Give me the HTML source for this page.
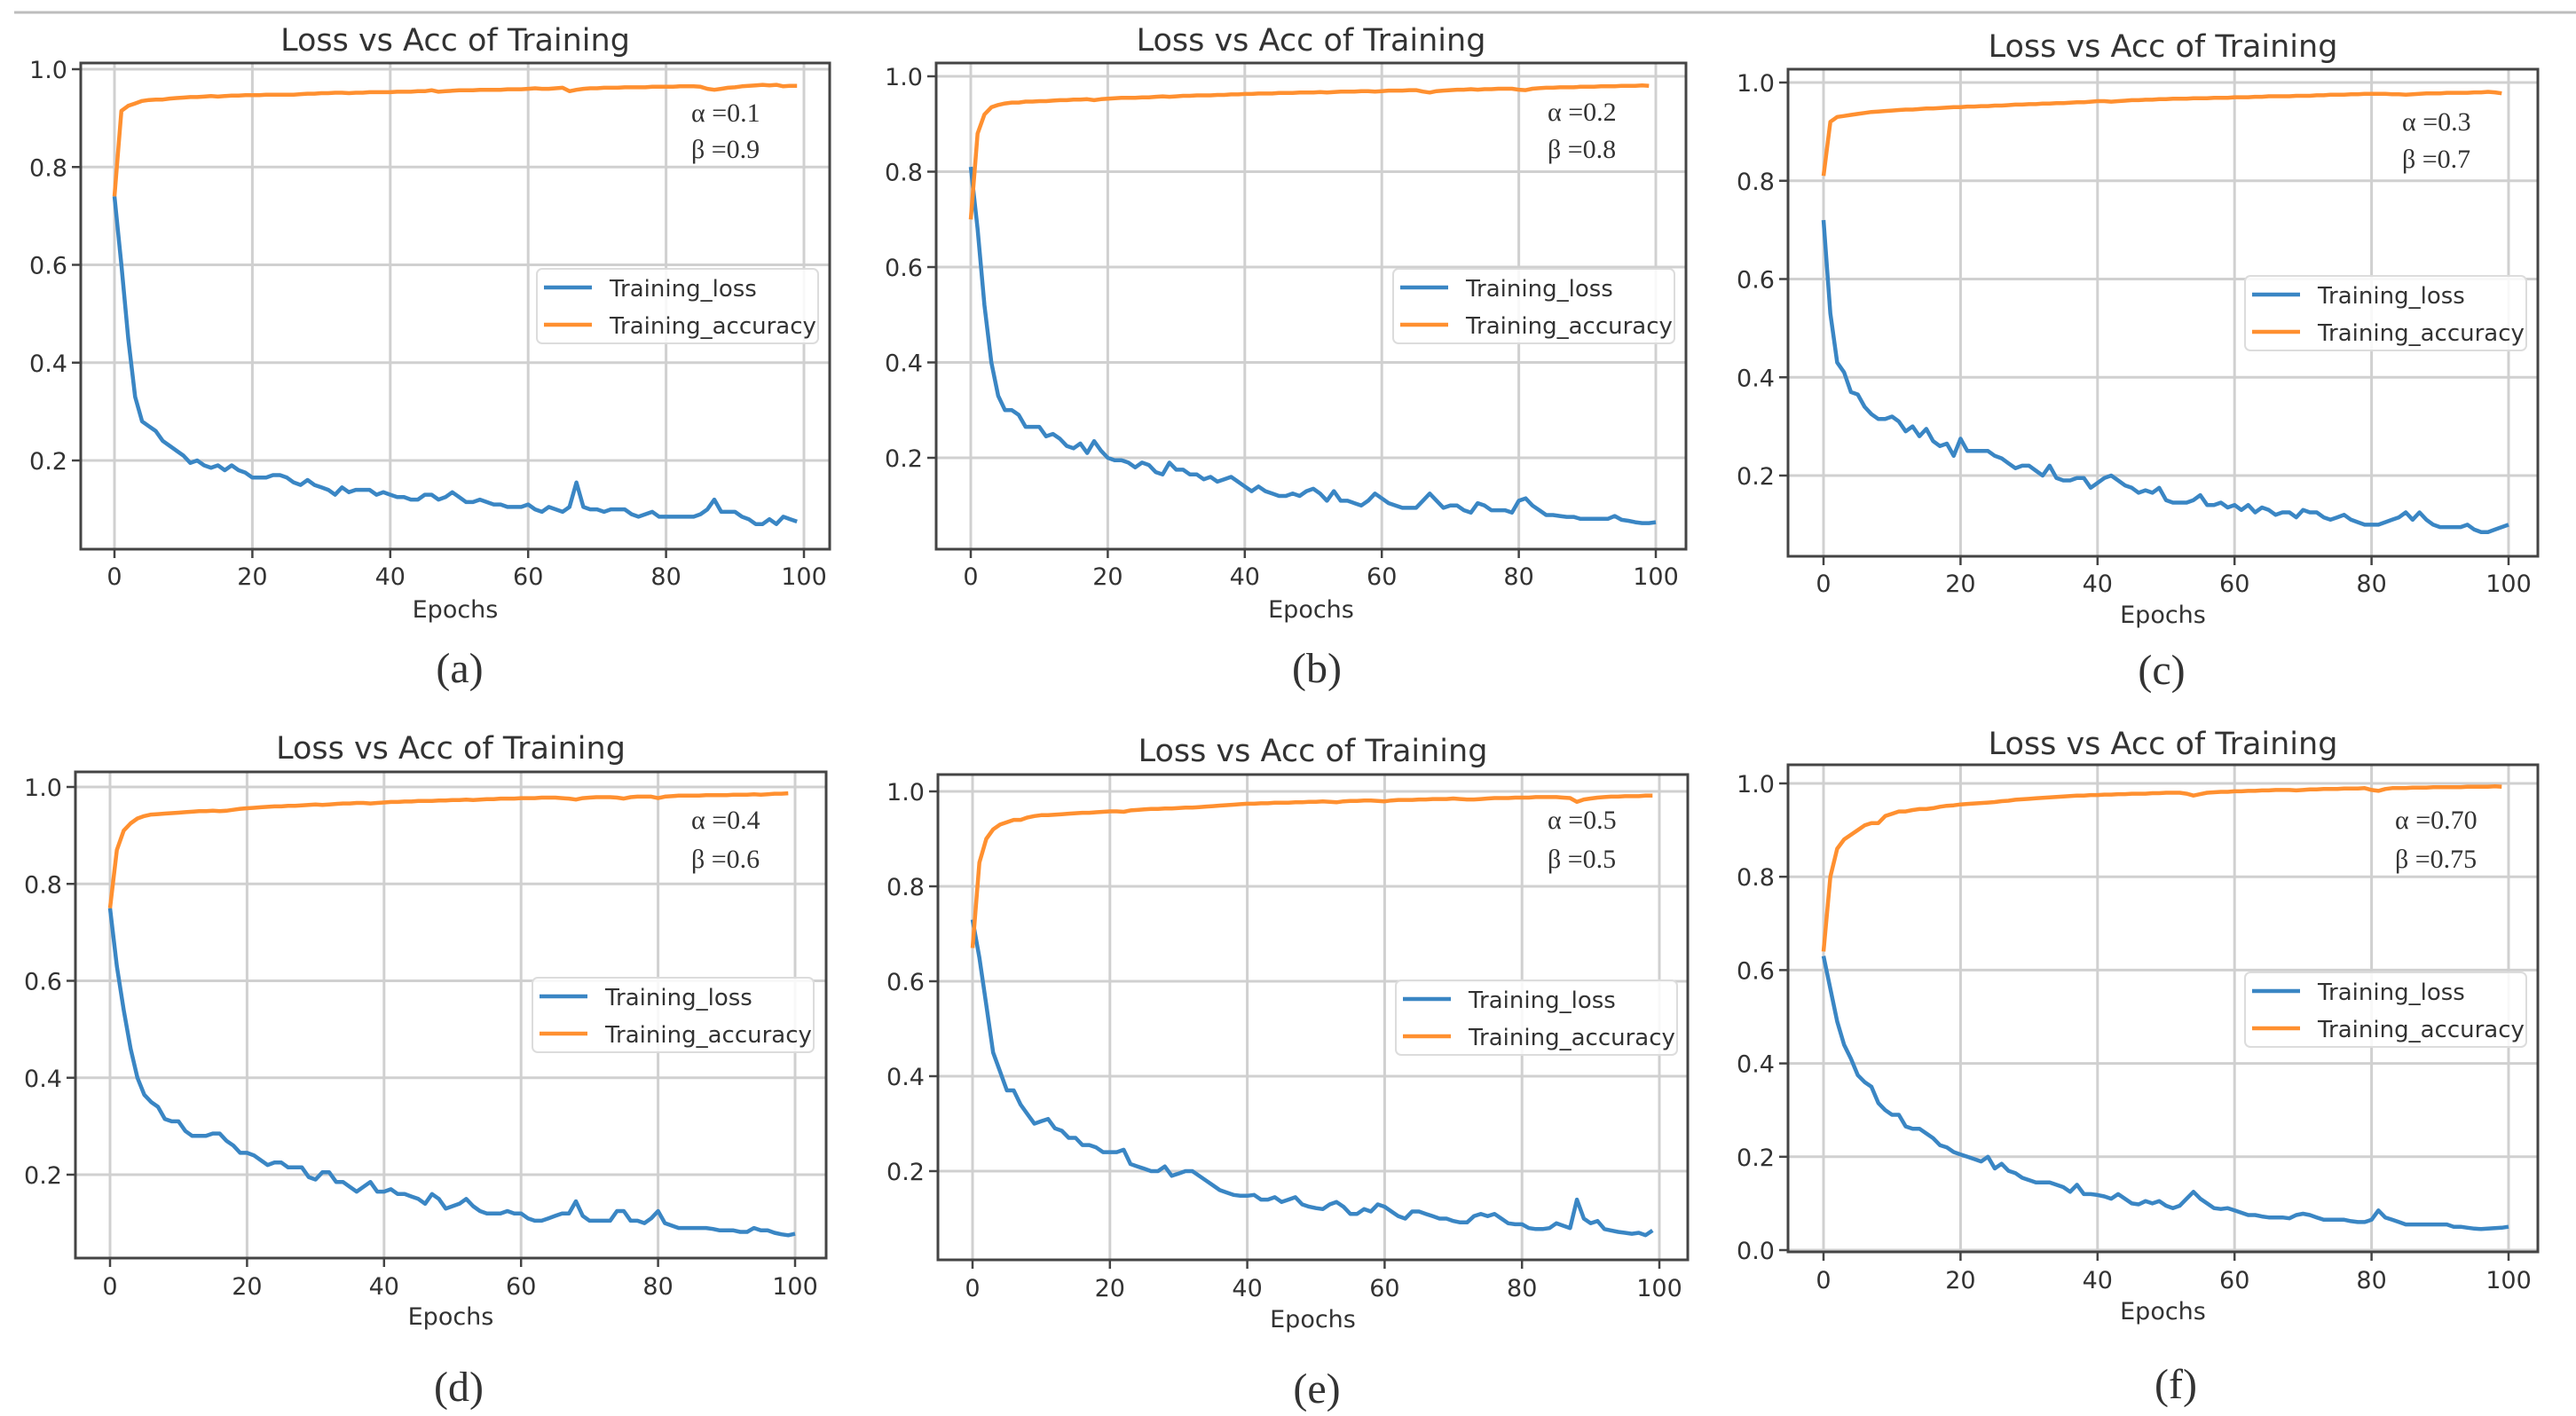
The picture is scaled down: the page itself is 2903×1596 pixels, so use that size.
<!DOCTYPE html>
<html><head><meta charset="utf-8">
<style>
html,body{margin:0;padding:0;background:#fff;}
svg{display:block;}
text{font-family:"DejaVu Sans","Liberation Sans",sans-serif;fill:#333;}
.serif{font-family:"Liberation Serif",serif;}
</style></head>
<body>
<svg id="fig" width="2903" height="1596" viewBox="0 0 2903 1596" xmlns="http://www.w3.org/2000/svg">
<line x1="16" y1="14" x2="2903" y2="14" stroke="#bdbdbd" stroke-width="3"/>
</svg>
<script>
const xTicks = [0,20,40,60,80,100];
const yTicksA = [0.2,0.4,0.6,0.8,1.0];
const yTicksF = [0.0,0.2,0.4,0.6,0.8,1.0];
const panelLetters = ["a","b","c","d","e","f"];
const alphas = ["0.1","0.2","0.3","0.4","0.5","0.70"];
const betas = ["0.9","0.8","0.7","0.6","0.5","0.75"];

const lossA = [0.74,0.6,0.45,0.33,0.28,0.27,0.26,0.24,0.23,0.22,0.21,0.195,0.2,0.19,0.185,0.19,0.18,0.19,0.18,0.175,0.165,0.165,0.165,0.17,0.17,0.165,0.155,0.15,0.16,0.15,0.145,0.14,0.13,0.145,0.135,0.14,0.14,0.14,0.13,0.135,0.13,0.125,0.125,0.12,0.12,0.13,0.13,0.12,0.125,0.135,0.125,0.115,0.115,0.12,0.115,0.11,0.11,0.105,0.105,0.105,0.11,0.1,0.095,0.105,0.1,0.095,0.105,0.155,0.105,0.1,0.1,0.095,0.1,0.1,0.1,0.09,0.085,0.09,0.095,0.085,0.085,0.085,0.085,0.085,0.085,0.09,0.1,0.12,0.095,0.095,0.095,0.085,0.08,0.07,0.07,0.08,0.07,0.085,0.08,0.075];
const accA = [0.74,0.915,0.925,0.93,0.935,0.937,0.938,0.938,0.94,0.941,0.942,0.943,0.943,0.944,0.945,0.944,0.945,0.946,0.946,0.947,0.947,0.947,0.948,0.948,0.948,0.948,0.948,0.949,0.95,0.95,0.951,0.951,0.952,0.952,0.951,0.952,0.952,0.953,0.953,0.953,0.953,0.954,0.954,0.954,0.955,0.955,0.957,0.954,0.955,0.956,0.957,0.957,0.957,0.958,0.958,0.958,0.958,0.959,0.959,0.959,0.96,0.961,0.96,0.96,0.961,0.962,0.955,0.958,0.96,0.961,0.961,0.962,0.962,0.962,0.963,0.963,0.963,0.963,0.964,0.964,0.964,0.964,0.965,0.965,0.965,0.964,0.96,0.958,0.96,0.962,0.963,0.965,0.966,0.967,0.968,0.967,0.968,0.965,0.966,0.966];

const lossB = [0.81,0.68,0.52,0.4,0.33,0.3,0.3,0.29,0.265,0.265,0.265,0.245,0.25,0.24,0.225,0.22,0.23,0.21,0.235,0.215,0.2,0.195,0.195,0.19,0.18,0.19,0.185,0.17,0.165,0.19,0.175,0.175,0.165,0.165,0.155,0.16,0.15,0.155,0.16,0.15,0.14,0.13,0.14,0.13,0.125,0.12,0.12,0.125,0.12,0.13,0.135,0.125,0.11,0.13,0.11,0.11,0.105,0.1,0.11,0.125,0.115,0.105,0.1,0.095,0.095,0.095,0.11,0.125,0.11,0.095,0.1,0.1,0.09,0.085,0.105,0.1,0.09,0.09,0.09,0.085,0.11,0.115,0.1,0.09,0.08,0.08,0.078,0.076,0.076,0.072,0.072,0.072,0.072,0.072,0.078,0.07,0.068,0.065,0.063,0.063,0.065];
const accB = [0.7,0.88,0.92,0.935,0.94,0.943,0.945,0.945,0.947,0.947,0.948,0.948,0.949,0.95,0.95,0.951,0.951,0.952,0.95,0.952,0.953,0.954,0.955,0.955,0.955,0.956,0.956,0.957,0.958,0.957,0.958,0.959,0.959,0.96,0.96,0.96,0.961,0.961,0.962,0.962,0.963,0.963,0.964,0.964,0.964,0.965,0.965,0.965,0.966,0.966,0.966,0.967,0.966,0.967,0.968,0.968,0.968,0.969,0.969,0.968,0.969,0.97,0.97,0.97,0.971,0.971,0.968,0.966,0.969,0.97,0.971,0.972,0.972,0.973,0.972,0.973,0.973,0.974,0.974,0.974,0.972,0.971,0.974,0.975,0.976,0.976,0.977,0.977,0.977,0.978,0.978,0.978,0.979,0.979,0.979,0.98,0.98,0.98,0.981,0.98];

const lossC = [0.72,0.53,0.43,0.41,0.37,0.365,0.34,0.325,0.315,0.315,0.32,0.31,0.29,0.3,0.28,0.295,0.27,0.26,0.265,0.24,0.275,0.25,0.25,0.25,0.25,0.24,0.235,0.225,0.215,0.22,0.22,0.21,0.2,0.22,0.195,0.19,0.19,0.195,0.195,0.175,0.185,0.195,0.2,0.19,0.18,0.175,0.165,0.17,0.165,0.175,0.15,0.145,0.145,0.145,0.15,0.16,0.14,0.14,0.145,0.135,0.14,0.13,0.14,0.125,0.135,0.13,0.12,0.125,0.125,0.115,0.13,0.125,0.125,0.115,0.11,0.115,0.12,0.11,0.105,0.1,0.1,0.1,0.105,0.11,0.115,0.125,0.11,0.125,0.11,0.1,0.095,0.095,0.095,0.095,0.1,0.09,0.085,0.085,0.09,0.095,0.1];
const accC = [0.81,0.92,0.93,0.932,0.934,0.936,0.938,0.94,0.941,0.942,0.943,0.944,0.945,0.945,0.946,0.947,0.947,0.948,0.949,0.95,0.95,0.951,0.951,0.952,0.952,0.953,0.953,0.954,0.955,0.955,0.956,0.956,0.957,0.957,0.958,0.958,0.959,0.96,0.96,0.961,0.962,0.962,0.961,0.962,0.963,0.964,0.964,0.965,0.965,0.966,0.966,0.967,0.967,0.967,0.968,0.968,0.968,0.969,0.969,0.969,0.97,0.97,0.97,0.971,0.971,0.972,0.972,0.972,0.972,0.973,0.973,0.973,0.974,0.974,0.975,0.975,0.975,0.976,0.976,0.977,0.977,0.977,0.977,0.976,0.976,0.975,0.976,0.977,0.978,0.978,0.978,0.979,0.979,0.979,0.979,0.98,0.98,0.981,0.98,0.978];

const lossD = [0.75,0.63,0.54,0.46,0.4,0.365,0.35,0.34,0.315,0.31,0.31,0.29,0.28,0.28,0.28,0.285,0.285,0.27,0.26,0.245,0.245,0.24,0.23,0.22,0.225,0.225,0.215,0.215,0.215,0.195,0.19,0.205,0.205,0.185,0.185,0.175,0.165,0.175,0.185,0.165,0.165,0.17,0.16,0.16,0.155,0.15,0.14,0.16,0.15,0.13,0.135,0.14,0.15,0.135,0.125,0.12,0.12,0.12,0.125,0.12,0.12,0.11,0.105,0.105,0.11,0.115,0.12,0.12,0.145,0.115,0.105,0.105,0.105,0.105,0.125,0.125,0.105,0.105,0.1,0.11,0.125,0.1,0.095,0.09,0.09,0.09,0.09,0.09,0.088,0.085,0.085,0.085,0.082,0.082,0.09,0.085,0.085,0.08,0.077,0.075,0.078];
const accD = [0.75,0.87,0.91,0.925,0.935,0.94,0.943,0.944,0.945,0.946,0.947,0.948,0.949,0.95,0.95,0.951,0.95,0.951,0.953,0.955,0.956,0.957,0.958,0.959,0.96,0.96,0.961,0.961,0.962,0.963,0.964,0.963,0.964,0.965,0.966,0.966,0.967,0.967,0.966,0.967,0.968,0.969,0.969,0.97,0.97,0.971,0.971,0.971,0.972,0.972,0.973,0.973,0.974,0.973,0.974,0.975,0.975,0.976,0.976,0.976,0.977,0.977,0.977,0.978,0.978,0.978,0.977,0.976,0.974,0.977,0.978,0.979,0.979,0.979,0.978,0.976,0.979,0.98,0.98,0.98,0.977,0.98,0.981,0.982,0.982,0.982,0.982,0.983,0.983,0.983,0.983,0.984,0.984,0.984,0.985,0.984,0.985,0.986,0.986,0.987];

const lossE = [0.73,0.65,0.55,0.45,0.41,0.37,0.37,0.34,0.32,0.3,0.305,0.31,0.29,0.285,0.27,0.27,0.255,0.255,0.25,0.24,0.24,0.24,0.245,0.215,0.21,0.205,0.2,0.2,0.21,0.19,0.195,0.2,0.2,0.19,0.18,0.17,0.16,0.155,0.15,0.148,0.148,0.15,0.14,0.14,0.145,0.135,0.14,0.145,0.13,0.125,0.122,0.12,0.13,0.135,0.125,0.11,0.11,0.12,0.115,0.13,0.125,0.115,0.105,0.1,0.115,0.115,0.11,0.105,0.1,0.1,0.095,0.092,0.092,0.105,0.11,0.105,0.11,0.1,0.09,0.088,0.088,0.08,0.078,0.078,0.08,0.09,0.085,0.08,0.14,0.1,0.09,0.095,0.078,0.075,0.072,0.07,0.068,0.07,0.065,0.075];
const accE = [0.67,0.85,0.9,0.92,0.93,0.935,0.94,0.94,0.945,0.948,0.95,0.95,0.951,0.952,0.953,0.954,0.955,0.955,0.956,0.957,0.958,0.958,0.957,0.96,0.961,0.962,0.963,0.963,0.964,0.964,0.965,0.966,0.966,0.967,0.968,0.969,0.97,0.971,0.972,0.973,0.974,0.974,0.975,0.975,0.976,0.976,0.976,0.977,0.977,0.978,0.978,0.979,0.978,0.977,0.979,0.98,0.98,0.981,0.981,0.98,0.979,0.981,0.982,0.982,0.982,0.983,0.983,0.984,0.984,0.984,0.985,0.984,0.983,0.983,0.984,0.985,0.986,0.986,0.986,0.987,0.987,0.987,0.988,0.988,0.988,0.988,0.987,0.986,0.978,0.983,0.985,0.987,0.988,0.989,0.989,0.99,0.99,0.99,0.991,0.991];

const lossF = [0.63,0.56,0.49,0.44,0.41,0.375,0.36,0.35,0.315,0.3,0.29,0.29,0.265,0.26,0.26,0.25,0.24,0.225,0.22,0.21,0.205,0.2,0.195,0.19,0.2,0.175,0.185,0.17,0.165,0.155,0.15,0.145,0.145,0.145,0.14,0.135,0.125,0.14,0.12,0.12,0.118,0.115,0.11,0.12,0.11,0.1,0.098,0.105,0.1,0.105,0.095,0.09,0.095,0.11,0.125,0.11,0.1,0.09,0.088,0.09,0.085,0.08,0.075,0.075,0.072,0.07,0.07,0.07,0.068,0.075,0.078,0.075,0.07,0.065,0.065,0.065,0.065,0.062,0.06,0.06,0.065,0.085,0.07,0.065,0.06,0.055,0.055,0.055,0.055,0.055,0.055,0.055,0.05,0.05,0.048,0.046,0.045,0.046,0.047,0.048,0.05];
const accF = [0.64,0.8,0.86,0.88,0.89,0.9,0.91,0.915,0.915,0.93,0.935,0.94,0.94,0.943,0.945,0.945,0.947,0.95,0.952,0.953,0.955,0.956,0.957,0.958,0.959,0.96,0.962,0.963,0.965,0.966,0.967,0.968,0.969,0.97,0.971,0.972,0.973,0.974,0.974,0.975,0.975,0.976,0.976,0.977,0.977,0.978,0.978,0.978,0.979,0.979,0.98,0.98,0.98,0.978,0.974,0.977,0.98,0.981,0.982,0.982,0.983,0.983,0.984,0.984,0.985,0.985,0.986,0.986,0.986,0.985,0.986,0.987,0.987,0.988,0.988,0.988,0.989,0.989,0.989,0.99,0.986,0.984,0.988,0.99,0.99,0.99,0.991,0.991,0.991,0.992,0.992,0.992,0.992,0.992,0.993,0.993,0.993,0.993,0.994,0.993];

const lossSeries = [lossA,lossB,lossC,lossD,lossE,lossF];
const accSeries = [accA,accB,accC,accD,accE,accF];

const layout = [
 {L:91,R:935,T:71,B:619,x0:129,x100:906,yHi:78,yLo:519,vLo:0.2,ticks:yTicksA,title:45,tickY:649,epY:686,capY:754,capX:518,legX:605,legY:303,abX:779,aY:127,bY:168},
 {L:1055,R:1900,T:71,B:619,x0:1094,x100:1866,yHi:86,yLo:516,vLo:0.2,ticks:yTicksA,title:45,tickY:649,epY:686,capY:754,capX:1484,legX:1570,legY:303,abX:1744,aY:126,bY:168},
 {L:2015,R:2860,T:78,B:627,x0:2055,x100:2827,yHi:93,yLo:536,vLo:0.2,ticks:yTicksA,title:52,tickY:657,epY:692,capY:756,capX:2436,legX:2530,legY:311,abX:2707,aY:137,bY:179},
 {L:85,R:931,T:870,B:1418,x0:124,x100:896,yHi:887,yLo:1324,vLo:0.2,ticks:yTicksA,title:843,tickY:1449,epY:1483,capY:1564,capX:517,legX:600,legY:1102,abX:779,aY:924,bY:968},
 {L:1057,R:1902,T:873,B:1420,x0:1096,x100:1870,yHi:892,yLo:1320,vLo:0.2,ticks:yTicksA,title:846,tickY:1451,epY:1486,capY:1566,capX:1484,legX:1573,legY:1105,abX:1744,aY:924,bY:968},
 {L:2015,R:2860,T:862,B:1411,x0:2055,x100:2827,yHi:883,yLo:1409,vLo:0.0,ticks:yTicksF,title:838,tickY:1442,epY:1477,capY:1561,capX:2452,legX:2530,legY:1096,abX:2699,aY:924,bY:968}
];

const NS = "http://www.w3.org/2000/svg";
const svg = document.getElementById('fig');
function mk(tag, attrs, parent){
  const e = document.createElementNS(NS, tag);
  for (const k in attrs) e.setAttribute(k, attrs[k]);
  (parent||svg).appendChild(e);
  return e;
}

layout.forEach((p, i) => {
  const g = mk('g', {});
  
  
  const xs = v => p.x0 + (v/100)*(p.x100 - p.x0);
  const ys = v => p.yHi + (1 - v) * (p.yLo - p.yHi) / (1 - p.vLo);

  xTicks.forEach(t => {
    const l = mk('line', {x1:xs(t), x2:xs(t), y1:p.T, y2:p.B, stroke:'#d0d0d0', 'stroke-width':3}, g);
    
    
    const tk = mk('line', {x1:xs(t), x2:xs(t), y1:p.B, y2:p.B+10, stroke:'#444', 'stroke-width':2.5}, g);
    
    
    const tl = mk('text', {x:xs(t), y:p.tickY+10, 'font-size':27, 'text-anchor':'middle'}, g);
    tl.textContent = String(t);
    
    
  });
  p.ticks.forEach(t => {
    const l = mk('line', {x1:p.L, x2:p.R, y1:ys(t), y2:ys(t), stroke:'#d0d0d0', 'stroke-width':3}, g);
    
    
    const tk = mk('line', {x1:p.L-10, x2:p.L, y1:ys(t), y2:ys(t), stroke:'#444', 'stroke-width':2.5}, g);
    
    
    const tl = mk('text', {x:p.L-15, y:ys(t)+10, 'font-size':27, 'text-anchor':'end'}, g);
    tl.textContent = t.toFixed(1);
    
    
  });

  const mkPath = arr => arr.map((v, k) => (k ? 'L' : 'M') + xs(k).toFixed(1) + ',' + ys(v).toFixed(1)).join('');
  const lp = mk('path', {d:mkPath(lossSeries[i]), fill:'none', stroke:'#3a86c4', 'stroke-width':4.5, 'stroke-linejoin':'round'}, g);
  
  
  const ap = mk('path', {d:mkPath(accSeries[i]), fill:'none', stroke:'#ff9030', 'stroke-width':4.5, 'stroke-linejoin':'round'}, g);
  
  

  const fr = mk('rect', {x:p.L, y:p.T, width:p.R-p.L, height:p.B-p.T, fill:'none', stroke:'#444', 'stroke-width':3}, g);
  
  

  const tt = mk('text', {x:(p.L+p.R)/2, y:p.title+12, 'font-size':35, 'text-anchor':'middle'}, g);
  tt.textContent = 'Loss vs Acc of Training';
  
  

  const xl = mk('text', {x:(p.L+p.R)/2, y:p.epY+10, 'font-size':27, 'text-anchor':'middle'}, g);
  xl.textContent = 'Epochs';
  
  

  const lg = mk('g', {}, g);
  
  
  mk('rect', {x:p.legX, y:p.legY, width:317, height:84, rx:6, fill:'#fff', 'fill-opacity':0.85, stroke:'#dcdcdc', 'stroke-width':2}, lg);
  const e1 = mk('g', {}, lg);
  
  
  mk('line', {x1:p.legX+8, x2:p.legX+62, y1:p.legY+21, y2:p.legY+21, stroke:'#3a86c4', 'stroke-width':4.5}, e1);
  const t1 = mk('text', {x:p.legX+82, y:p.legY+31, 'font-size':26}, e1);
  t1.textContent = 'Training_loss';
  const e2 = mk('g', {}, lg);
  
  
  mk('line', {x1:p.legX+8, x2:p.legX+62, y1:p.legY+63, y2:p.legY+63, stroke:'#ff9030', 'stroke-width':4.5}, e2);
  const t2 = mk('text', {x:p.legX+82, y:p.legY+73, 'font-size':26}, e2);
  t2.textContent = 'Training_accuracy';

  const an = mk('text', {x:p.abX, y:p.aY+10, 'font-size':30, class:'serif', fill:'#555'}, g);
  an.textContent = '\u03B1 =' + alphas[i];
  
  
  const bn = mk('text', {x:p.abX, y:p.bY+10, 'font-size':30, class:'serif', fill:'#555'}, g);
  bn.textContent = '\u03B2 =' + betas[i];
  
  

  const cp = mk('text', {x:p.capX, y:p.capY+15, 'font-size':48, class:'serif', 'text-anchor':'middle', fill:'#111'}, g);
  cp.textContent = '(' + panelLetters[i] + ')';
  
  
});
</script>
</body></html>
